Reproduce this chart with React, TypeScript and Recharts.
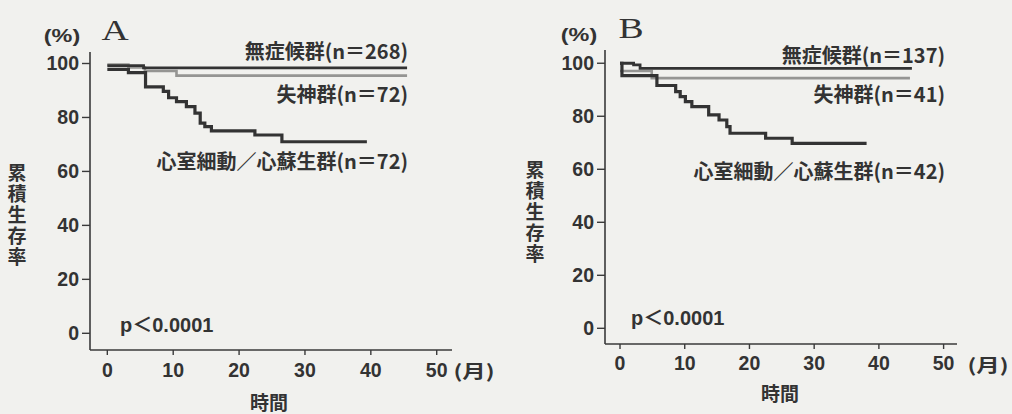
import React from 'react';
import { LineChart, Line, XAxis, YAxis } from 'recharts';

// ---- tick labels ----
const monthTicks = [0, 10, 20, 30, 40, 50];
const pctTicks = [0, 20, 40, 60, 80, 100];

// ---- Panel A (months, cumulative survival %) ----
const asymA_t = [0, 5.5, 45.5];
const asymA_v = [99.2, 98.4, 98.4];
const syncA_t = [0, 3.2, 5.7, 10.5, 45.5];
const syncA_v = [99.6, 98.5, 97.2, 95.5, 95.5];
const vfA_t = [0, 3.2, 5.8, 8.5, 9.3, 10.5, 12.0, 13.3, 14.1, 14.8, 15.8, 22.4, 26.5, 39.4];
const vfA_v = [97.8, 96.6, 91.3, 89.7, 87.3, 85.9, 84.0, 81.6, 77.9, 76.6, 75.0, 73.5, 71.0, 71.0];

// ---- Panel B ----
const asymB_t = [0, 2.1, 3.1, 45.1];
const asymB_v = [100, 99.4, 98.1, 98.1];
const syncB_t = [0, 4.9, 44.8];
const syncB_v = [97.1, 94.4, 94.4];
const vfB_t = [0, 0.3, 5.7, 8.6, 9.3, 10.1, 11.1, 13.7, 15.3, 16.5, 17.0, 22.5, 26.6, 38.1];
const vfB_v = [100, 95.3, 91.6, 89.3, 87.4, 85.5, 83.6, 80.5, 78.6, 76.1, 73.6, 71.7, 69.8, 69.8];

// ---- labels ----
const groupLabelsA = ['無症候群(n＝268)', '失神群(n＝72)', '心室細動／心蘇生群(n＝72)'];
const groupLabelsB = ['無症候群(n＝137)', '失神群(n＝41)', '心室細動／心蘇生群(n＝42)'];
const yTitle = '累積生存率';
const xTitle = '時間';
const xUnit = '(月)';
const yUnit = '(%)';
const pText = 'p＜0.0001';
const panelNames = ['A', 'B'];

const rows = (t: number[], v: number[]) => t.map((x, i) => ({ t: x, v: v[i] }));

const INK = '#333333';
const NUM_FONT = '"Liberation Sans", Arial, "Noto Sans CJK JP", sans-serif';
const JP_FONT = '"Noto Sans CJK JP", "Liberation Sans", sans-serif';
const BG = '#f1f1ee';

const XTick = (dy: number) => (props: any) => {
  const { x, y, payload } = props;
  return (
    <text x={x} y={y + dy} textAnchor="middle" dominantBaseline="central"
      fontFamily={NUM_FONT} fontSize={19.5} fill={INK} fontWeight={700}>
      {payload.value}
    </text>
  );
};
const YTick = (props: any) => {
  const { x, y, payload } = props;
  return (
    <text x={x} y={y} textAnchor="end" dominantBaseline="central"
      fontFamily={NUM_FONT} fontSize={19.5} fill={INK} fontWeight={700}>
      {payload.value}
    </text>
  );
};

type PanelProps = {
  left: number;
  margin: { top: number; right: number; left: number; bottom: number };
  xDom: [number, number];
  yDom: [number, number];
  tickDy: number;
  asym: { t: number; v: number }[];
  sync: { t: number; v: number }[];
  vf: { t: number; v: number }[];
};

const Panel = ({ left, margin, xDom, yDom, tickDy, asym, sync, vf }: PanelProps) => (
  <div style={{ position: 'absolute', left, top: 0 }}>
    <LineChart width={506} height={414} margin={margin}>
      <XAxis type="number" dataKey="t" domain={xDom} ticks={monthTicks} allowDataOverflow
        interval={0} height={30} tickSize={5}
        axisLine={{ stroke: '#3a3a3a', strokeWidth: 1.6 }}
        tickLine={{ stroke: '#3a3a3a', strokeWidth: 1.4 }}
        tick={XTick(tickDy)} />
      <YAxis type="number" domain={yDom} ticks={pctTicks} allowDataOverflow
        interval={0} width={40} tickSize={8} tickMargin={3}
        axisLine={{ stroke: '#3a3a3a', strokeWidth: 1.6 }}
        tickLine={{ stroke: '#3a3a3a', strokeWidth: 1.4 }}
        tick={YTick} />
      <Line data={sync} dataKey="v" type="stepAfter" stroke="#959593" strokeWidth={2.6}
        dot={false} activeDot={false} isAnimationActive={false} />
      <Line data={asym} dataKey="v" type="stepAfter" stroke="#333333" strokeWidth={2.8}
        dot={false} activeDot={false} isAnimationActive={false} />
      <Line data={vf} dataKey="v" type="stepAfter" stroke="#333333" strokeWidth={3.2}
        dot={false} activeDot={false} isAnimationActive={false} />
    </LineChart>
  </div>
);

const VTitle = ({ x, y }: { x: number; y: number }) => (
  <text x={x} y={y} fontFamily={JP_FONT} fontSize={19} fontWeight={700} fill={INK}
    style={{ writingMode: 'vertical-rl', letterSpacing: '2px' } as any}>{yTitle}</text>
);

const JP = ({ x, y, anchor = 'end', size = 20, children }: any) => (
  <text x={x} y={y} textAnchor={anchor} dominantBaseline="central"
    fontFamily={JP_FONT} fontSize={size} fontWeight={700} fill={INK}>{children}</text>
);

const Overlay = () => (
  <svg width={1012} height={414} style={{ position: 'absolute', left: 0, top: 0, pointerEvents: 'none' }}>
    {/* Panel A */}
    <text transform="translate(115,40) scale(1.3,1)" textAnchor="middle"
      fontFamily='"Liberation Serif", "DejaVu Serif", serif' fontSize={29} fill={INK}>{panelNames[0]}</text>
    <text transform="translate(62,36) scale(1.3,1)" textAnchor="middle" dominantBaseline="central"
      fontFamily={NUM_FONT} fontSize={18} fill={INK} fontWeight={700}>{yUnit}</text>
    <JP x={408} y={50}>{groupLabelsA[0]}</JP>
    <JP x={408} y={93}>{groupLabelsA[1]}</JP>
    <JP x={408} y={160}>{groupLabelsA[2]}</JP>
    <text x={120} y={325} dominantBaseline="central" fontFamily={NUM_FONT} fontSize={20} fill={INK} fontWeight={700}>{pText}</text>
    <VTitle x={17} y={163} />
    <JP x={269} y={401} anchor="middle" size={19}>{xTitle}</JP>
    <text transform="translate(474,370) scale(1.3,1)" textAnchor="middle" dominantBaseline="central"
      fontFamily={JP_FONT} fontSize={18} fontWeight={700} fill={INK}>{xUnit}</text>

    {/* Panel B */}
    <text transform="translate(631,38) scale(1.3,1)" textAnchor="middle"
      fontFamily='"Liberation Serif", "DejaVu Serif", serif' fontSize={29} fill={INK}>{panelNames[1]}</text>
    <text transform="translate(579,35) scale(1.3,1)" textAnchor="middle" dominantBaseline="central"
      fontFamily={NUM_FONT} fontSize={18} fill={INK} fontWeight={700}>{yUnit}</text>
    <JP x={945} y={54}>{groupLabelsB[0]}</JP>
    <JP x={945} y={93}>{groupLabelsB[1]}</JP>
    <JP x={945} y={170}>{groupLabelsB[2]}</JP>
    <text x={631} y={318} dominantBaseline="central" fontFamily={NUM_FONT} fontSize={20} fill={INK} fontWeight={700}>{pText}</text>
    <VTitle x={535} y={160} />
    <JP x={780} y={392} anchor="middle" size={19}>{xTitle}</JP>
    <text transform="translate(988,364) scale(1.3,1)" textAnchor="middle" dominantBaseline="central"
      fontFamily={JP_FONT} fontSize={18} fontWeight={700} fill={INK}>{xUnit}</text>
  </svg>
);

export default function App() {
  return (
    <div style={{ position: 'absolute', left: 0, top: 0, width: 1012, height: 414, background: BG, overflow: 'hidden' }}>
      <Panel left={0} margin={{ top: 52, right: 54, left: 50, bottom: 34 }}
        xDom={[-2.63, 52.32]} yDom={[-6.19, 104.26]} tickDy={13}
        asym={rows(asymA_t, asymA_v)} sync={rows(syncA_t, syncA_v)} vf={rows(vfA_t, vfA_v)} />
      <Panel left={506} margin={{ top: 50, right: 55, left: 59, bottom: 40 }}
        xDom={[-2.32, 52.07]} yDom={[-5.92, 105.0]} tickDy={12}
        asym={rows(asymB_t, asymB_v)} sync={rows(syncB_t, syncB_v)} vf={rows(vfB_t, vfB_v)} />
      <Overlay />
    </div>
  );
}
